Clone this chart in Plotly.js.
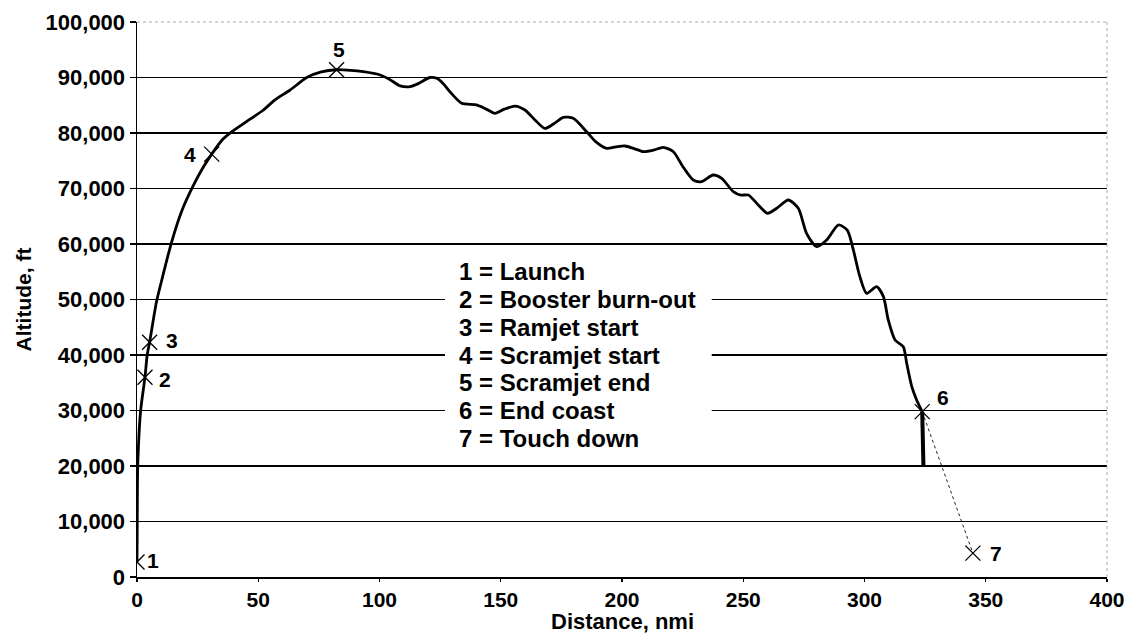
<!DOCTYPE html>
<html>
<head>
<meta charset="utf-8">
<script src="https://cdn.plot.ly/plotly-3.0.1.min.js"></script>
<style>
html,body{margin:0;padding:0;background:#fff;}
#chart{width:1131px;height:635px;}
</style>
</head>
<body>
<div id="chart"></div>
<script>
// Trajectory (distance in nmi, altitude in ft)
const trajDist = [0, 0.1, 0.3, 1.5, 3.3, 4.2, 5.2, 8, 10.5, 14.3, 18.5, 23.2, 27, 30.8, 35, 39, 45, 52, 57, 63, 70, 76, 82.3, 88, 93.3, 100, 104, 108.5, 112.6, 116, 120.8, 123.6, 126.5, 129, 133.9, 140, 144, 147.6, 151.5, 155.9, 160, 164, 168.2, 172, 175.8, 179.9, 185.4, 189, 193.7, 197.5, 201.2, 205, 208.8, 213, 217, 221.2, 225, 229.4, 232.8, 237.6, 241.1, 245.9, 249, 252.1, 256.2, 260, 263.8, 268.6, 272.7, 276.1, 280.3, 284.4, 289.2, 292.9, 295.4, 298.1, 300.9, 305, 307.8, 309.8, 312.6, 316, 317.4, 319.5, 321.5, 323.8];
const trajAlt = [2700, 10000, 20000, 30000, 36000, 40000, 42300, 49500, 54000, 60400, 66000, 70500, 73600, 76200, 78700, 80200, 82000, 84100, 86000, 87700, 90000, 91000, 91400, 91300, 91050, 90500, 89700, 88500, 88350, 88900, 90000, 89850, 88800, 87450, 85350, 85050, 84300, 83550, 84300, 84850, 84140, 82400, 80830, 81700, 82830, 82650, 80230, 78500, 77240, 77500, 77660, 77200, 76630, 76900, 77420, 76630, 74000, 71530, 71230, 72430, 71840, 69430, 68800, 68830, 67030, 65530, 66430, 67930, 66430, 61920, 59520, 60720, 63420, 62520, 58920, 54110, 51110, 52310, 50510, 46310, 42700, 41500, 38500, 34300, 31900, 29800];

// Final drop after end of coast
const dropDist = [323.8, 324.3];
const dropAlt = [29800, 20000];

// Glide from end coast to touch down
const glideDist = [323.8, 344.7];
const glideAlt = [29800, 4300];

// Event markers
const eventIds = ["1", "2", "3", "4", "5", "6", "7"];
const eventDist = [0, 3.3, 5.2, 30.8, 82.3, 323.8, 344.7];
const eventAlt = [2700, 36000, 42300, 76200, 91400, 29800, 4300];
const eventNames = ["Launch", "Booster burn-out", "Ramjet start", "Scramjet start", "Scramjet end", "End coast", "Touch down"];

// Axis ticks
const yTicks = [0, 10000, 20000, 30000, 40000, 50000, 60000, 70000, 80000, 90000, 100000];
const xTicks = [0, 50, 100, 150, 200, 250, 300, 350, 400];

const FONT = "Liberation Sans, Arial, Helvetica, sans-serif";

const traces = [
  {x: trajDist, y: trajAlt, mode: "lines", line: {color: "#000", width: 2.8, shape: "spline", smoothing: 0.7}, hoverinfo: "skip"},
  {x: dropDist, y: dropAlt, mode: "lines", line: {color: "#000", width: 4}, hoverinfo: "skip"},
  {x: glideDist, y: glideAlt, mode: "lines", line: {color: "#222", width: 1, dash: "dot"}, hoverinfo: "skip"},
  {x: eventDist, y: eventAlt, mode: "markers", marker: {symbol: "x-thin-open", size: 15, color: "#000", line: {color: "#000", width: 1.3}}, hoverinfo: "skip"}
];

// label offsets (pixels) for the event numbers
const labelShift = [[16, 2], [20, -2], [22, 2], [-22, 0], [2, 20], [21, 14], [23, 0]];

const annotations = [];
eventIds.forEach((id, i) => {
  annotations.push({
    x: eventDist[i], y: eventAlt[i], xref: "x", yref: "y", text: "<b>" + id + "</b>",
    showarrow: false, xshift: labelShift[i][0], yshift: labelShift[i][1],
    font: {family: FONT, size: 21, color: "#000"}
  });
});
eventNames.forEach((name, i) => {
  annotations.push({
    x: 131.8, y: 55000 - i * 5000, xref: "x", yref: "y", xanchor: "left", yanchor: "middle",
    text: "<b>" + eventIds[i] + " = " + name + "</b>", showarrow: false,
    font: {family: FONT, size: 24, color: "#000"}
  });
});
// x-axis title
annotations.push({
  x: 0.5, y: -0.081, xref: "paper", yref: "paper", xanchor: "center", yanchor: "middle",
  text: "<b>Distance, nmi</b>", showarrow: false,
  font: {family: FONT, size: 22, color: "#000"}
});

const layout = {
  width: 1131, height: 635,
  margin: {l: 137, r: 24, t: 22, b: 58},
  paper_bgcolor: "#fff", plot_bgcolor: "#fff",
  showlegend: false,
  font: {family: FONT, color: "#000"},
  xaxis: {
    range: [0, 400], tickvals: xTicks, ticktext: xTicks.map(String),
    showgrid: false, zeroline: false,
    showline: true, linecolor: "#000", linewidth: 1.5,
    ticks: "outside", ticklen: 3, tickcolor: "#000", tickwidth: 1.2,
    tickfont: {family: FONT, size: 21, color: "#000", weight: "bold"}
  },
  yaxis: {
    range: [0, 100000], tickvals: yTicks, ticktext: yTicks.map(v => v.toLocaleString("en-US")),
    showgrid: true, gridcolor: "#000", gridwidth: 1.8,
    zeroline: false,
    showline: true, linecolor: "#000", linewidth: 1.5,
    ticks: "outside", ticklen: 6, tickcolor: "#000", tickwidth: 1.2,
    tickfont: {family: FONT, size: 22, color: "#000", weight: "bold"},
    title: {text: "<b>Altitude, ft</b>", font: {family: FONT, size: 21, color: "#000"}, standoff: 8}
  },
  shapes: [
    {type: "line", xref: "paper", yref: "paper", x0: 0, x1: 1, y0: 1, y1: 1, line: {color: "#aaa", width: 1, dash: "dot"}},
    {type: "line", xref: "paper", yref: "paper", x0: 1, x1: 1, y0: 0, y1: 1, line: {color: "#aaa", width: 1, dash: "dot"}},
    {type: "rect", xref: "x", yref: "y", x0: 127, x1: 237, y0: 22500, y1: 57500, fillcolor: "#fff", line: {width: 0}, layer: "above"}
  ],
  annotations: annotations
};

Plotly.newPlot("chart", traces, layout, {displayModeBar: false, staticPlot: true});
</script>
</body>
</html>
